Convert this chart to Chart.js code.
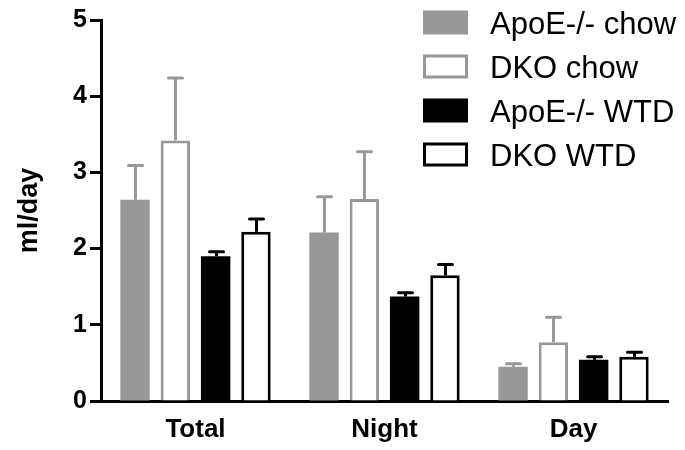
<!DOCTYPE html>
<html>
<head>
<meta charset="utf-8">
<script src="https://cdn.jsdelivr.net/npm/chart.js@4"></script>
<style>
html,body{margin:0;padding:0;background:#fff;}
#wrap{width:685px;height:450px;}
</style>
</head>
<body>
<div id="wrap"><canvas id="c" width="685" height="450"></canvas></div>
<script>
const categories = ['Total', 'Night', 'Day'];
const seriesNames = ['ApoE-/- chow', 'DKO chow', 'ApoE-/- WTD', 'DKO WTD'];
const apoeChow = [2.64, 2.21, 0.45];
const apoeChowErr = [0.45, 0.47, 0.04];
const dkoChow = [3.42, 2.65, 0.77];
const dkoChowErr = [0.82, 0.62, 0.33];
const apoeWtd = [1.90, 1.37, 0.54];
const apoeWtdErr = [0.06, 0.05, 0.04];
const dkoWtd = [2.22, 1.65, 0.58];
const dkoWtdErr = [0.17, 0.14, 0.06];
const yTicks = [0, 1, 2, 3, 4, 5];

const FONT = '"Liberation Sans", Arial, Helvetica, sans-serif';
const GRAY = '#989898';

function ds(label, data, err, fill, border, bw) {
  return {
    label, data, err,
    backgroundColor: fill,
    borderColor: border,
    borderWidth: bw,
    errColor: border,
    categoryPercentage: 0.853,
    barPercentage: 0.73
  };
}

const errorBars = {
  id: 'errorBars',
  afterDatasetsDraw(chart) {
    const ctx = chart.ctx;
    const y = chart.scales.y;
    chart.data.datasets.forEach((d, i) => {
      const meta = chart.getDatasetMeta(i);
      meta.data.forEach((el, j) => {
        const top = y.getPixelForValue(d.data[j] + d.err[j]);
        const x = Math.round(el.x) + 0.5;
        ctx.save();
        ctx.strokeStyle = d.errColor;
        ctx.lineWidth = 3;
        ctx.beginPath();
        ctx.moveTo(x, el.y);
        ctx.lineTo(x, top);
        ctx.stroke();
        ctx.lineCap = 'round';
        ctx.beginPath();
        ctx.moveTo(x - 7, top);
        ctx.lineTo(x + 7, top);
        ctx.stroke();
        ctx.restore();
      });
    });
  }
};

const customLegend = {
  id: 'customLegend',
  afterDraw(chart) {
    const ctx = chart.ctx;
    const x0 = 423, w = 45, h = 24, y0 = 22.5, step = 44;
    chart.data.datasets.forEach((d, i) => {
      const cy = y0 + i * step;
      ctx.save();
      ctx.fillStyle = d.backgroundColor;
      ctx.fillRect(x0, cy - h / 2, w, h);
      if (d.borderWidth > 0) {
        ctx.strokeStyle = d.borderColor;
        ctx.lineWidth = 3;
        ctx.strokeRect(x0 + 1.5, cy - h / 2 + 1.5, w - 3, h - 3);
      }
      ctx.fillStyle = '#000';
      ctx.font = '31px ' + FONT;
      ctx.textBaseline = 'alphabetic';
      ctx.textAlign = 'left';
      ctx.fillText(d.label, 490, cy + 11);
      ctx.restore();
    });
  }
};

new Chart(document.getElementById('c'), {
  type: 'bar',
  data: {
    labels: categories,
    datasets: [
      ds(seriesNames[0], apoeChow, apoeChowErr, GRAY, GRAY, 0),
      ds(seriesNames[1], dkoChow, dkoChowErr, '#ffffff', GRAY, 3),
      ds(seriesNames[2], apoeWtd, apoeWtdErr, '#000000', '#000000', 0),
      ds(seriesNames[3], dkoWtd, dkoWtdErr, '#ffffff', '#000000', 3)
    ]
  },
  plugins: [errorBars, customLegend],
  options: {
    responsive: false,
    animation: false,
    layout: { padding: { top: 20, right: 17, bottom: 0, left: 0 } },
    plugins: { legend: { display: false }, tooltip: { enabled: false } },
    scales: {
      x: {
        grid: { display: false, drawTicks: false },
        border: { display: true, color: '#000', width: 3 },
        ticks: { color: '#000', padding: 13, font: { family: FONT, size: 26, weight: 'bold' } },
        afterFit(s) { s.height = 49; }
      },
      y: {
        min: 0, max: 5,
        afterBuildTicks(s) { s.ticks = yTicks.map(v => ({ value: v })); },
        ticks: { color: '#000', padding: 3, font: { family: FONT, size: 25, weight: 'bold' } },
        grid: { display: true, drawOnChartArea: false, drawTicks: true, tickLength: 11, tickWidth: 3, tickColor: '#000' },
        border: { display: true, color: '#000', width: 3 },
        title: { display: true, text: 'ml/day', color: '#000', padding: { top: 13, bottom: 0 }, font: { family: FONT, size: 27, weight: 'bold' } },
        afterFit(s) { s.width = 101; }
      }
    }
  }
});
</script>
</body>
</html>
